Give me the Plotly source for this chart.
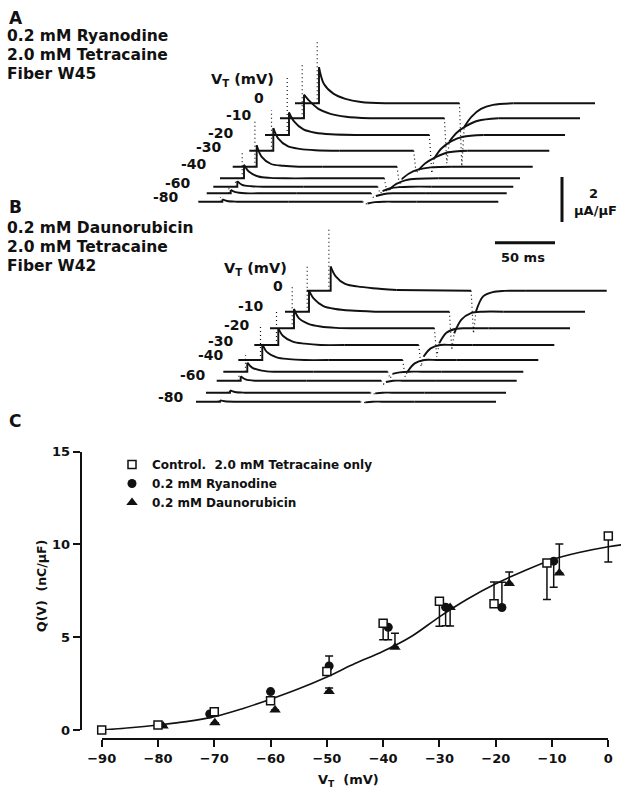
import plotly.graph_objects as go

W, H = 621, 792

# ================= DATA =================
# Panel C : charge vs. test potential
FIT_V = [-90, -85, -80, -75, -70, -65, -60, -55, -50, -45, -40, -35, -30, -25, -20, -15, -10, -5, 0, 2.3]
FIT_Q = [0.0, 0.12, 0.27, 0.45, 0.72, 1.15, 1.66, 2.22, 2.86, 3.58, 4.24, 5.04, 6.10, 7.06, 7.88, 8.57, 9.18, 9.58, 9.88, 9.98]

CTRL_V = [-90, -80, -70, -60, -50, -40, -30, -20.3, -10.9, 0]
CTRL_Q = [0.0, 0.27, 0.99, 1.58, 3.15, 5.76, 6.94, 6.81, 9.0, 10.45]
CTRL_EP = [None, None, None, None, None, 0, 0, 1.17, 0, 0]
CTRL_EM = [None, None, None, None, None, 0.9, 1.35, 0, 1.96, 1.4]

RYA_V = [-70.8, -60, -49.6, -39.1, -28.9, -18.9, -9.7]
RYA_Q = [0.86, 2.07, 3.45, 5.54, 6.62, 6.60, 9.10]
RYA_EP = [None, None, 0.54, 0, 0, 1.37, 0]
RYA_EM = [None, None, 0, 0.68, 1.0, 0, 1.4]

DAU_V = [-79.1, -69.9, -59.2, -49.6, -37.9, -28.1, -17.6, -8.7]
DAU_Q = [0.22, 0.39, 1.08, 2.07, 4.46, 6.60, 7.89, 8.46]
DAU_EP = [None, None, None, 0.2, 0.76, 0, 0.62, 1.56]
DAU_EM = [None, None, None, 0, 0, 1.0, 0, 0]

C_XTICKS = [-90, -80, -70, -60, -50, -40, -30, -20, -10, 0]
C_YTICKS = [0, 5, 10, 15]

# Panels A/B : current records (ms, uA/uF relative to each record's baseline)
VT = [0, -10, -20, -30, -40, -50, -60, -70, -80]
VT_LABELS = ['0', '-10', '-20', '-30', '-40', '', '-60', '', '-80']
T_ON, T_OFF, T_END = 20, 137, 250
ON_T = [0, 4, 12, 22, 35, 55]
OFF_T = [4, 10, 18, 28, 45]

A_SPIKE = [2.8, 2.4, 2.65, 1.8, 2.0, 1.15, 0.35, 0.25, 0.2]
A_ON = [
    [1.60, 0.87, 0.43, 0.20, 0.06, 0.0],
    [1.05, 0.80, 0.42, 0.20, 0.07, 0.0],
    [1.00, 0.62, 0.25, 0.10, 0.03, 0.0],
    [1.00, 0.55, 0.20, 0.08, 0.02, 0.0],
    [0.95, 0.45, 0.12, 0.04, 0.0, 0.0],
    [0.60, 0.30, 0.08, 0.02, 0.0, 0.0],
    [0.25, 0.08, 0.02, 0.0, 0.0, 0.0],
    [0.15, 0.05, 0.0, 0.0, 0.0, 0.0],
    [0.10, 0.03, 0.0, 0.0, 0.0, 0.0],
]
A_DROP = [-2.8, -2.0, -1.7, -1.0, -0.9, -0.6, -0.3, -0.2, -0.1]
A_OFF = [
    [-1.05, -0.60, -0.25, -0.07, 0.0],
    [-1.04, -0.65, -0.35, -0.11, 0.0],
    [-1.04, -0.60, -0.28, -0.08, 0.0],
    [-0.86, -0.55, -0.30, -0.08, 0.0],
    [-0.55, -0.30, -0.12, -0.03, 0.0],
    [-0.50, -0.25, -0.08, -0.02, 0.0],
    [-0.20, -0.08, -0.02, 0.0, 0.0],
    [-0.12, -0.04, 0.0, 0.0, 0.0],
    [-0.08, -0.02, 0.0, 0.0, 0.0],
]

B_SPIKE = [2.84, 2.07, 1.9, 1.48, 1.48, 0.74, 0.25, 0.12, 0.08]
B_ON = [
    [1.07, 0.65, 0.30, 0.19, 0.11, 0.03],
    [0.95, 0.58, 0.25, 0.12, 0.05, 0.0],
    [0.86, 0.45, 0.20, 0.08, 0.02, 0.0],
    [0.74, 0.40, 0.15, 0.06, 0.0, 0.0],
    [0.71, 0.35, 0.12, 0.04, 0.0, 0.0],
    [0.40, 0.18, 0.05, 0.0, 0.0, 0.0],
    [0.20, 0.06, 0.0, 0.0, 0.0, 0.0],
    [0.10, 0.03, 0.0, 0.0, 0.0, 0.0],
    [0.06, 0.02, 0.0, 0.0, 0.0, 0.0],
]
B_DROP = [-1.9, -1.7, -1.26, -0.96, -0.74, -0.3, -0.15, -0.08, -0.05]
B_OFF = [
    [-0.93, -0.25, -0.06, -0.01, 0.0],
    [-0.96, -0.35, -0.06, 0.0, 0.0],
    [-0.67, -0.20, -0.02, 0.0, 0.0],
    [-0.52, -0.15, 0.0, 0.0, 0.0],
    [-0.52, -0.15, 0.0, 0.0, 0.0],
    [-0.10, -0.03, 0.0, 0.0, 0.0],
    [-0.06, 0.0, 0.0, 0.0, 0.0],
    [-0.03, 0.0, 0.0, 0.0, 0.0],
    [-0.03, 0.0, 0.0, 0.0, 0.0],
]
SCALE_T, SCALE_I = 50, 2

# ================= LAYOUT CONSTANTS (pixels) =================
PX_PER_MS, PX_PER_UA = 1.2, 22.5
A_TOP, A_BOT = 0, 230
B_TOP, B_BOT = 200, 415
A_START_PX = [295, 280, 265, 249.3, 232.7, 220, 213.3, 206.7, 198.3]
A_LEVEL_PX = [103.3, 118.3, 135, 150.7, 166.7, 178.3, 186.7, 193.3, 201.7]
B_START_PX = [306.7, 285, 270, 254.3, 238.3, 223.3, 216.7, 206, 196]
B_LEVEL_PX = [290.7, 311.7, 328.3, 345, 360, 371.7, 380.7, 392.7, 401.7]
A_LAB_PX = [(265, 98), (253, 115), (235, 133), (223, 147), (208, 164), None, (192, 183), None, (180, 197)]
B_LAB_PX = [(284, 286), (265, 306), (251, 325), (235, 341), (225, 355), None, (207, 375), None, (185, 397)]

C_YAX_PX = 81.7
C_XL_PX, C_XR_PX = 101.7, 608.3
C_Y0_PX, C_Y15_PX = 730.0, 451.7
C_XAXIS_PX = 739.3

FONT = "DejaVu Sans"
INK = "#111111"


def px(v):
    return v / W


def py(v):
    return 1 - v / H


fig = go.Figure()


def add_panel(xa, ya, bot, starts, levels, spike, on, drop, off):
    lx, ly, sx, sy, dx, dy = [], [], [], [], [], []
    for k in range(len(VT)):
        x0 = starts[k] / PX_PER_MS
        L = (bot - levels[k]) / PX_PER_UA
        lx += [x0, x0 + T_ON, x0 + T_ON, None,
               x0 + T_ON + ON_T[-1], x0 + T_OFF, None,
               x0 + T_OFF + OFF_T[-1], x0 + T_END, None]
        ly += [L, L, L + on[k][0], None, L + on[k][-1], L, None, L + off[k][-1], L, None]
        sx += [x0 + T_ON + t for t in ON_T] + [None] + [x0 + T_OFF + t for t in OFF_T] + [None]
        sy += [L + v for v in on[k]] + [None] + [L + v for v in off[k]] + [None]
        dx += [x0 + T_ON - 1.5, x0 + T_ON - 1.5, None,
               x0 + T_OFF, x0 + T_OFF + 2, x0 + T_OFF + OFF_T[0], None]
        dy += [L, L + spike[k], None, L, L + drop[k], L + off[k][0], None]
    common = dict(xaxis=xa, yaxis=ya, mode="lines", showlegend=False, hoverinfo="skip")
    fig.add_trace(go.Scatter(x=lx, y=ly, line=dict(color=INK, width=1.9), **common))
    fig.add_trace(go.Scatter(x=sx, y=sy, line=dict(color=INK, width=1.9, shape="spline", smoothing=0.9), **common))
    fig.add_trace(go.Scatter(x=dx, y=dy, line=dict(color=INK, width=1.2, dash="1px,3px"), **common))


add_panel("x2", "y2", A_BOT, A_START_PX, A_LEVEL_PX, A_SPIKE, A_ON, A_DROP, A_OFF)
add_panel("x4", "y4", B_BOT, B_START_PX, B_LEVEL_PX, B_SPIKE, B_ON, B_DROP, B_OFF)

# scale bars
vb_x = 562 / PX_PER_MS
vb_y0 = (A_BOT - 222) / PX_PER_UA
fig.add_trace(go.Scatter(x=[vb_x, vb_x], y=[vb_y0, vb_y0 + SCALE_I], xaxis="x2", yaxis="y2",
                         mode="lines", line=dict(color=INK, width=3), showlegend=False, hoverinfo="skip"))
hb_x0 = 495 / PX_PER_MS
hb_y = (B_BOT - 242.7) / PX_PER_UA
fig.add_trace(go.Scatter(x=[hb_x0, hb_x0 + SCALE_T], y=[hb_y, hb_y], xaxis="x4", yaxis="y4",
                         mode="lines", line=dict(color=INK, width=3), showlegend=False, hoverinfo="skip"))

# ---- Panel C ----
fig.add_trace(go.Scatter(x=FIT_V, y=FIT_Q, mode="lines", line=dict(color=INK, width=1.6, shape="spline"),
                         showlegend=False, hoverinfo="skip", xaxis="x", yaxis="y"))


def err(ep, em):
    return dict(type="data", symmetric=False, array=ep, arrayminus=em, color=INK, thickness=1.5, width=4)


fig.add_trace(go.Scatter(x=DAU_V, y=DAU_Q, mode="markers", name="0.2 mM Daunorubicin", legendrank=3,
                         marker=dict(symbol="triangle-up", size=10, color=INK),
                         error_y=err(DAU_EP, DAU_EM), cliponaxis=False, xaxis="x", yaxis="y"))
fig.add_trace(go.Scatter(x=RYA_V, y=RYA_Q, mode="markers", name="0.2 mM Ryanodine", legendrank=2,
                         marker=dict(symbol="circle", size=9, color=INK),
                         error_y=err(RYA_EP, RYA_EM), cliponaxis=False, xaxis="x", yaxis="y"))
fig.add_trace(go.Scatter(x=CTRL_V, y=CTRL_Q, mode="markers", name="Control.  2.0 mM Tetracaine only", legendrank=1,
                         marker=dict(symbol="square", size=8, color="white", line=dict(color=INK, width=1.5)),
                         error_y=err(CTRL_EP, CTRL_EM), cliponaxis=False, xaxis="x", yaxis="y"))
# dummy trace so the visible voltage axis is drawn
fig.add_trace(go.Scatter(x=[-90], y=[0], mode="markers", marker=dict(opacity=0), showlegend=False,
                         hoverinfo="skip", xaxis="x3", yaxis="y"))

ppm = (C_XR_PX - C_XL_PX) / 90.0
x_lo = -90 - (C_XL_PX - C_YAX_PX) / ppm
x_hi = 0 + (W - C_XR_PX) / ppm

tickfont = dict(family=FONT, size=13, color=INK, weight="bold")

fig.update_layout(
    template="none",
    width=W, height=H, autosize=False,
    margin=dict(l=0, r=0, t=0, b=0, pad=0, autoexpand=False),
    paper_bgcolor="white", plot_bgcolor="rgba(0,0,0,0)",
    font=dict(family=FONT, color=INK),
    xaxis=dict(domain=[px(C_YAX_PX), 1], range=[x_lo, x_hi], visible=False, fixedrange=True,
               automargin=False),
    yaxis=dict(domain=[py(C_Y0_PX), py(C_Y15_PX)], range=[0, 15], anchor="x",
               showline=True, linecolor=INK, linewidth=2, ticks="outside", ticklen=7, tickwidth=2,
               tickcolor=INK, tickvals=C_YTICKS, tickfont=tickfont, showgrid=False, zeroline=False,
               fixedrange=True, automargin=False),
    xaxis3=dict(domain=[px(C_XL_PX), px(C_XR_PX)], range=[-90, 0], anchor="free", position=py(C_XAXIS_PX),
                showline=True, linecolor=INK, linewidth=2, ticks="outside", ticklen=7, tickwidth=2,
                tickcolor=INK, tickvals=C_XTICKS, tickfont=tickfont, showgrid=False, zeroline=False,
                fixedrange=True, automargin=False),
    xaxis2=dict(domain=[0, 1], range=[0, W / PX_PER_MS], visible=False, fixedrange=True, automargin=False),
    yaxis2=dict(domain=[py(A_BOT), py(A_TOP)], range=[0, (A_BOT - A_TOP) / PX_PER_UA], anchor="x2",
                visible=False, fixedrange=True, automargin=False),
    xaxis4=dict(domain=[0, 1], range=[0, W / PX_PER_MS], visible=False, fixedrange=True, automargin=False),
    yaxis4=dict(domain=[py(B_BOT), py(B_TOP)], range=[0, (B_BOT - B_TOP) / PX_PER_UA], anchor="x4",
                visible=False, fixedrange=True, automargin=False),
    legend=dict(x=px(112), y=py(450), xanchor="left", yanchor="top", bgcolor="rgba(0,0,0,0)",
                borderwidth=0,
                font=dict(family=FONT, size=12, color=INK, weight="bold"), tracegroupgap=0,
                itemclick=False, itemdoubleclick=False),
    showlegend=True,
)

ann = []


def text(x, y, s, size=15.5, xanchor="left", weight="bold", angle=0):
    ann.append(dict(x=px(x), y=py(y), xref="paper", yref="paper", text=s, showarrow=False,
                    xanchor=xanchor, yanchor="middle", textangle=angle, borderpad=0,
                    font=dict(family=FONT, size=size, color=INK, weight=weight)))


# Panel A text
text(8, 18, "A", size=17, weight=900)
text(6, 36, "0.2 mM Ryanodine")
text(6, 55, "2.0 mM Tetracaine")
text(6, 74, "Fiber W45")
text(242, 80, "V<sub>T</sub> (mV)", xanchor="center", size=14.5)
for lab, pos in zip(VT_LABELS, A_LAB_PX):
    if pos:
        text(pos[0], pos[1], lab, xanchor="right", size=14)

# Panel B text
text(8, 207, "B", size=17, weight=900)
text(6, 228, "0.2 mM Daunorubicin")
text(6, 247, "2.0 mM Tetracaine")
text(6, 266, "Fiber W42")
text(255, 269, "V<sub>T</sub> (mV)", xanchor="center", size=14.5)
for lab, pos in zip(VT_LABELS, B_LAB_PX):
    if pos:
        text(pos[0], pos[1], lab, xanchor="right", size=14)

# scale bar labels
text(593, 194, "2", size=13, xanchor="center")
text(595, 210, "\u03bcA/\u03bcF", size=13, xanchor="center")
text(523, 257, "50 ms", size=13, xanchor="center")

# Panel C text
text(8, 421, "C", size=17, weight=900)
text(41, 586, "Q(V)  (nC/\u03bcF)", size=12.5, xanchor="center", angle=-90)
text(348, 780, "V<sub>T</sub>  (mV)", size=13, xanchor="center")

fig.update_layout(annotations=ann)
fig.write_html("out.html")
